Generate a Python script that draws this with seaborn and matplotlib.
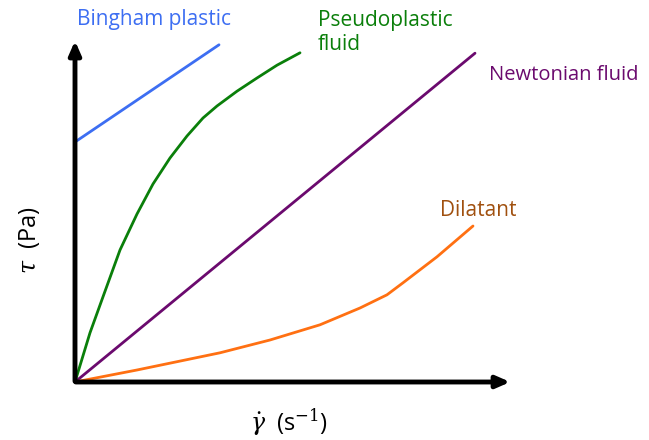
import numpy as np
import pandas as pd
import matplotlib.pyplot as plt
import seaborn as sns

sns.set_style("white")
plt.rcParams["font.family"] = ["Open Sans", "DejaVu Sans"]
plt.rcParams["mathtext.fontset"] = "dejavuserif"

# shear rate / shear stress (arbitrary units)
bingham_x = [0.0, 3.6]
bingham_y = [6.0, 8.43]

pseudo_x = [0.0, 0.375, 0.7, 1.125, 1.55, 1.95, 2.375, 2.8, 3.2, 3.55, 4.05, 4.55, 5.05, 5.625]
pseudo_y = [0.0, 1.23, 2.13, 3.3, 4.2, 4.95, 5.6, 6.15, 6.6, 6.9, 7.27, 7.6, 7.92, 8.23]

newton_x = [0.0, 10.0]
newton_y = [0.0, 8.22]

dilatant_x = [0.0, 1.55, 3.625, 4.875, 6.125, 7.125, 7.8, 8.2, 9.05, 9.95]
dilatant_y = [0.0, 0.3, 0.73, 1.05, 1.43, 1.85, 2.18, 2.48, 3.13, 3.9]

series = [
    ("Bingham plastic", bingham_x, bingham_y, "#3d6ef2"),
    ("Pseudoplastic fluid", pseudo_x, pseudo_y, "#0a7f0a"),
    ("Newtonian fluid", newton_x, newton_y, "#6b0a6e"),
    ("Dilatant", dilatant_x, dilatant_y, "#ff7012"),
]

fig = plt.figure(figsize=(6.49, 4.40), dpi=100)
ax = fig.add_axes([0, 0, 1, 1])

for name, xs, ys, col in series:
    df = pd.DataFrame({"rate": xs, "stress": ys})
    sns.lineplot(data=df, x="rate", y="stress", color=col, linewidth=2.0, ax=ax, sort=False)

ax.set_xlim(-1.875, 14.35)
ax.set_ylim(-1.45, 9.55)
ax.axis("off")

# axes arrows
ax.annotate("", xy=(10.95, 0), xytext=(-0.05, 0),
            arrowprops=dict(arrowstyle="-|>,head_length=0.8,head_width=0.35", color="black", lw=3.5))
ax.annotate("", xy=(0, 8.6), xytext=(0, -0.05),
            arrowprops=dict(arrowstyle="-|>,head_length=0.8,head_width=0.35", color="black", lw=3.5))

ax.text(0.05, 9.07, "Bingham plastic", color="#3d6ef2", fontsize=15, va="center", ha="left")
ax.text(6.08, 9.3, "Pseudoplastic\nfluid", color="#0a7f0a", fontsize=15, va="top", ha="left",
        linespacing=1.2)
ax.text(10.35, 7.67, "Newtonian fluid", color="#6b0a6e", fontsize=14.5, va="center", ha="left")
ax.text(9.12, 4.3, "Dilatant", color="#a0500f", fontsize=15, va="center", ha="left")

ax.text(-1.15, 3.55, r"$\tau$  (Pa)", fontsize=17, rotation=90, va="center", ha="center", color="black")
ax.text(5.35, -1.0, r"$\dot{\gamma}$  (s$^{-1}$)", fontsize=17, va="center", ha="center", color="black")

fig.savefig("out.png", dpi=100)
